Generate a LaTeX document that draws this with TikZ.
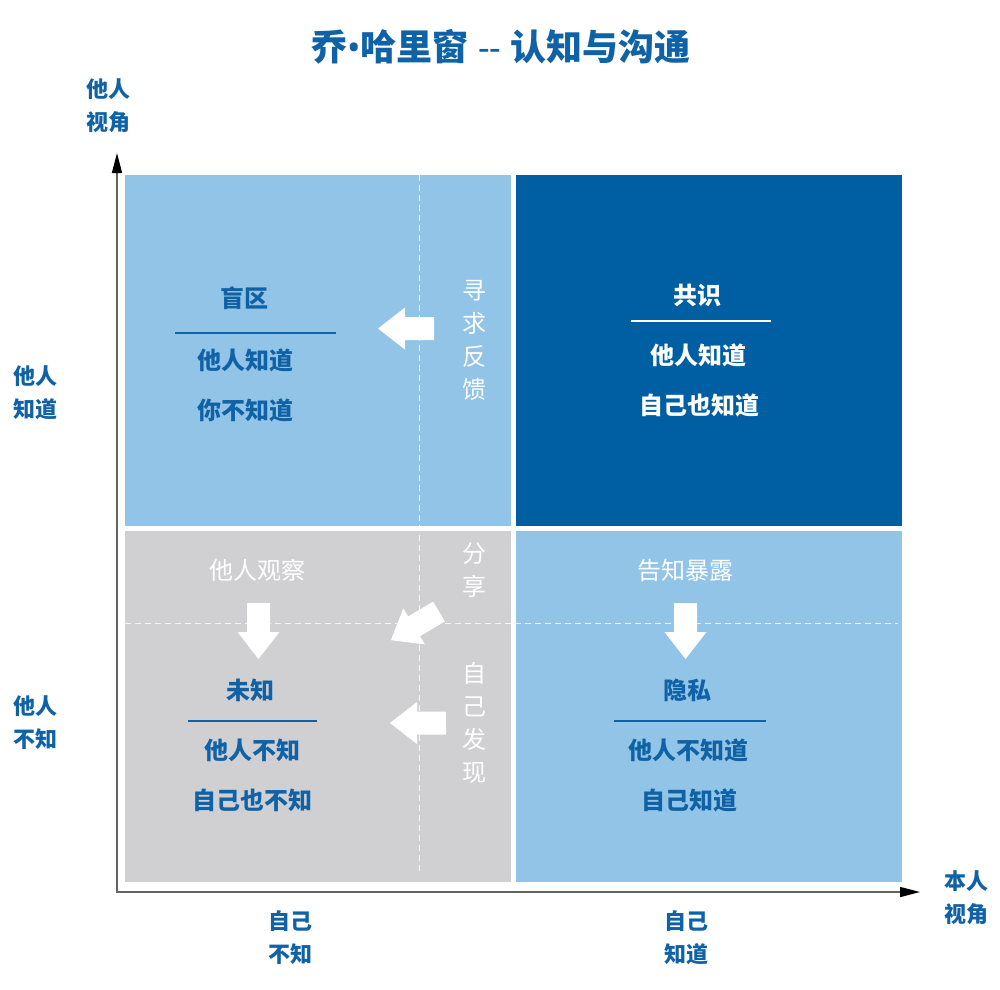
\documentclass[tikz,border=0pt]{standalone}
\usepackage{fontspec}
\setmainfont{Noto Sans CJK SC}
\newfontfamily\latinf{Noto Sans}
\usetikzlibrary{arrows.meta}
\definecolor{lightq}{RGB}{146,196,232}
\definecolor{darkq}{RGB}{0,94,162}
\definecolor{grayq}{RGB}{208,207,210}
\definecolor{txtblue}{RGB}{16,98,166}
\definecolor{axisgray}{RGB}{100,100,100}
\begin{document}
\begin{tikzpicture}[x=1pt,y=-1pt,
  lbl/.style={font=\fontsize{22}{33}\selectfont\bfseries, text=txtblue, align=center, inner sep=0pt},
  qhead/.style={font=\fontsize{24}{30}\selectfont\bfseries, inner sep=0pt},
  vtext/.style={font=\fontsize{24}{33}\selectfont, text=white, align=center, inner sep=0pt},
  wtext/.style={font=\fontsize{24}{30}\selectfont, text=white, inner sep=0pt},
  dashline/.style={white, opacity=0.8, dash pattern=on 6pt off 4pt, line width=1pt},
  axisline/.style={axisgray, line width=1.5pt},
  barrow/.pic={\fill[white] (0,-11.5) -- (29,-11.5) -- (29,-21) -- (56,0) -- (29,21) -- (29,11.5) -- (0,11.5) -- cycle;}
]
\useasboundingbox (0,0) rectangle (1000,989);
\fill[white] (0,0) rectangle (1000,989);

% quadrants
\fill[lightq] (125,175) rectangle (511,526);
\fill[darkq]  (516,175) rectangle (902,526);
\fill[grayq]  (125,531) rectangle (511,882);
\fill[lightq] (516,531) rectangle (902,882);

% dashed guides
\draw[dashline] (419,175) -- (419,872);
\draw[dashline] (125,623) -- (898,623);

% axes
\coordinate (ytip) at (117,153);
\coordinate (origin) at (117,892);
\coordinate (xtip) at (920,892);
\draw[axisline, {Triangle[length=20pt,width=10pt,black]}-{Triangle[length=20pt,width=10pt,black]}] (ytip) -- (origin) -- (xtip);

% title
\node[font=\fontsize{36}{40}\selectfont\bfseries, text=txtblue, inner sep=0pt] (title) at (501,47) {乔{\latinf\bfseries •}哈里窗{\latinf\bfseries\ -{}-\ }认知与沟通};

% axis labels
\node[lbl] (ylabel) at (108,106) {他人\\视角};
\node[lbl] (know) at (35,393) {他人\\知道};
\node[lbl] (notknow) at (35,723) {他人\\不知};
\node[lbl] (selfnot) at (290,938) {自己\\不知};
\node[lbl] (selfknow) at (686,938) {自己\\知道};
\node[lbl] (xlabel) at (966,898) {本人\\视角};

% top-left
\node[qhead, text=txtblue] (tlh) at (244,298) {盲区};
\draw[txtblue, line width=1.5pt] (175,333) -- (336,333);
\node[qhead, text=txtblue] (tla) at (245,360) {他人知道};
\node[qhead, text=txtblue] (tlb) at (245,410) {你不知道};

% top-right
\node[qhead, text=white] (trh) at (697,295) {共识};
\draw[white, line width=1.5pt] (631,321) -- (771,321);
\node[qhead, text=white] (tra) at (698,355) {他人知道};
\node[qhead, text=white] (trb) at (699,405) {自己也知道};

% bottom-left
\node[wtext] (blobs) at (257,570) {他人观察};
\node[qhead, text=txtblue] (blh) at (250,690) {未知};
\draw[txtblue, line width=1.5pt] (188,721) -- (317,721);
\node[qhead, text=txtblue] (bla) at (252,750) {他人不知};
\node[qhead, text=txtblue] (blb) at (252,800) {自己也不知};

% bottom-right
\node[wtext] (brtell) at (685,570) {告知暴露};
\node[qhead, text=txtblue] (brh) at (687,690) {隐私};
\draw[txtblue, line width=1.5pt] (614,721) -- (766,721);
\node[qhead, text=txtblue] (bra) at (688,750) {他人不知道};
\node[qhead, text=txtblue] (brb) at (689,800) {自己知道};

% vertical action labels
\node[vtext] (seek) at (474,340) {寻\\求\\反\\馈};
\node[vtext] (share) at (474,570) {分\\享};
\node[vtext] (discover) at (474,723) {自\\己\\发\\现};

% block arrows
\pic[rotate=180] at (434,328.5) {barrow};
\pic[rotate=180] at (446,723) {barrow};
\pic[rotate=-90] at (258.5,603) {barrow};
\pic[rotate=-90] at (685.5,603) {barrow};
\pic[rotate=210.8] at (439,611.5) {barrow};
\end{tikzpicture}
\end{document}
